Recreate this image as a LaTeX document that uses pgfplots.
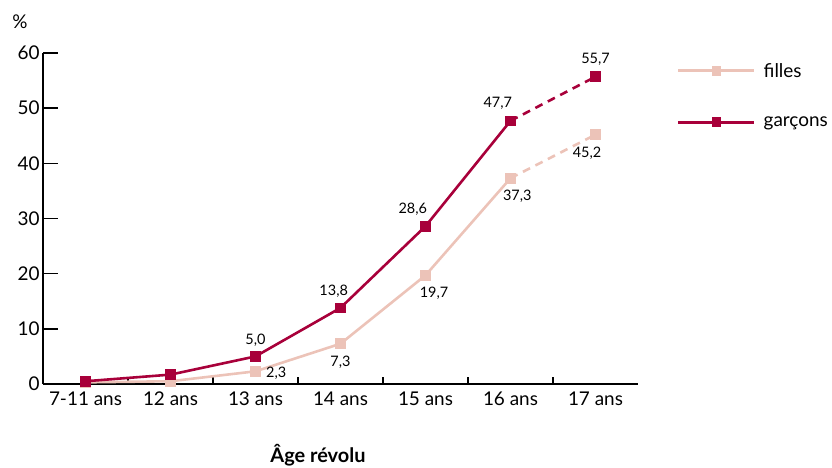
\documentclass[border=0pt]{standalone}
\usepackage{pgfplots}
\pgfplotsset{compat=1.18}
\usepackage{fontspec}
\setmainfont{Lato}

\definecolor{garcons}{HTML}{A8003A}
\definecolor{filles}{HTML}{ECC3B8}

\pgfplotsset{serie/.style={#1, line width=2.6bp, mark=square*, mark size=4bp}}

\begin{document}
\begin{tikzpicture}
\useasboundingbox (-43bp,-84bp) rectangle (789bp,384bp);
\begin{axis}[
    at={(0,0)}, anchor=south west,
    scale only axis,
    width=595bp, height=331bp,
    xmin=-0.5, xmax=6.5,
    ymin=0, ymax=60,
    axis lines=left,
    axis line style={-, line width=1.5bp},
    ytick={0,10,...,60},
    xtick={0,...,6},
    xticklabels={7-11 ans,12 ans,13 ans,14 ans,15 ans,16 ans,17 ans},
    minor xtick={0.5,1.5,...,5.5},
    every major x tick/.style={draw=none},
    tick align=inside,
    major tick length=15bp,
    minor tick length=7bp,
    tick style={line width=1.5bp, black},
    tick label style={font=\fontsize{19}{22}\selectfont},
    xticklabel style={yshift=-4bp},
    /pgf/number format/assume math mode=true,
    legend style={draw=none, fill=none, at={(1.06,0.982)}, anchor=north west,
        font=\fontsize{19}{22}\selectfont, row sep=34bp},
    legend cell align=left,
    legend image code/.code={
        \draw[#1, line width=3bp, mark=none] (0bp,0bp) -- (76bp,0bp);
        \draw[#1, mark size=3.5bp] plot coordinates {(38bp,0bp)};
        \path (82bp,0bp);
    },
    clip=false,
]
% filles, ages 7-11 to 16 (solid)
\addplot[serie=filles] coordinates {
    (0,0.3) (1,0.5) (2,2.3) (3,7.3) (4,19.7) (5,37.3)
};
\addlegendentry{filles}
% garcons, ages 7-11 to 16 (solid)
\addplot[serie=garcons] coordinates {
    (0,0.5) (1,1.7) (2,5.0) (3,13.8) (4,28.6) (5,47.7)
};
\addlegendentry{garçons}
% 16 -> 17 ans (dashed)
\addplot[serie=filles, dash pattern=on 8bp off 6bp, mark options={solid}, forget plot] coordinates {(5,37.3) (6,45.2)};
\addplot[serie=garcons, dash pattern=on 8bp off 6bp, mark options={solid}, forget plot] coordinates {(5,47.7) (6,55.7)};

\begin{scope}[every node/.style={font=\fontsize{14.5}{17}\selectfont, inner sep=2bp}]
\node[anchor=south] at (axis cs:2,6.4) {5,0};
\node[anchor=south] at (axis cs:2.92,15.3) {13,8};
\node[anchor=south] at (axis cs:3.85,30.2) {28,6};
\node[anchor=south] at (axis cs:4.85,49.4) {47,7};
\node[anchor=south] at (axis cs:6,57.4) {55,7};
\node[anchor=west] at (axis cs:2.1,1.9) {2,3};
\node[anchor=north] at (axis cs:3,5.4) {7,3};
\node[anchor=north] at (axis cs:4.1,18.0) {19,7};
\node[anchor=north] at (axis cs:5.08,35.6) {37,3};
\node[anchor=north] at (axis cs:5.9,43.4) {45,2};
\end{scope}
\end{axis}
\node[font=\fontsize{19}{22}\selectfont] at (-23bp,362bp) {\%};
\node[font=\fontsize{20}{24}\selectfont\bfseries] at (275bp,-71bp) {Âge révolu};
\end{tikzpicture}
\end{document}
